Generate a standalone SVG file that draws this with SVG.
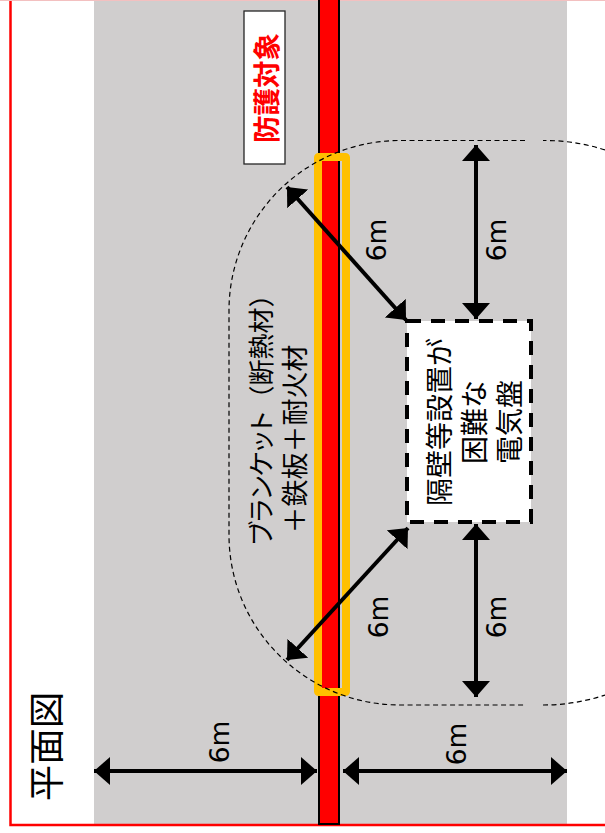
<svg xmlns="http://www.w3.org/2000/svg" width="605" height="833" viewBox="0 0 605 833">
<style>
.jp{font-family:"Noto Sans CJK JP","Noto Sans",sans-serif;fill:#000;text-anchor:middle;dominant-baseline:central}
.m{font-family:"DejaVu Sans",sans-serif;font-size:26.500px;fill:#000;text-anchor:middle;dominant-baseline:central}
.arrow{stroke:#000;stroke-width:4;fill:none;marker-start:url(#head);marker-end:url(#head)}
.palt{font-feature-settings:"palt"}
</style>
<defs>
<marker id="head" markerUnits="userSpaceOnUse" markerWidth="17" markerHeight="28" refX="16" refY="14" orient="auto-start-reverse">
<polygon points="0,0 16,14 0,28" fill="#000"/>
</marker>
</defs>
<rect width="605" height="833" fill="#fff"/>
<g id="ground"><rect x="94" y="0" width="473" height="824" fill="#d0cece"/></g>
<g id="frame"><path d="M10.500,0V825H605" fill="none" stroke="#f00" stroke-width="2.500"/><path d="M0,0.500H605" stroke="#f3c0c0" stroke-width="1"/></g>
<g id="target-pipe"><rect x="319" y="-2" width="20" height="826" fill="#f00" stroke="#000" stroke-width="2"/></g>
<g id="blanket"><rect x="318" y="157" width="28" height="535" rx="0.500" fill="none" stroke="#ffc000" stroke-width="8" stroke-linejoin="round"/></g>
<g id="range"><path d="M525,140.500H400A171,170 0 0 0 229,310.500V535A171,170 0 0 0 400,705H525M543,705A195,195 0 0 0 605,695M605,150A195,195 0 0 0 543,140.500" fill="none" stroke="#000" stroke-width="1.200" stroke-dasharray="5 3.500"/></g>
<g id="label-target">
<rect x="244" y="11" width="41" height="153" fill="#fff" stroke="#262626" stroke-width="1.300"/>
<text class="jp" transform="translate(265,88) rotate(-90)" font-size="27.500" font-weight="700" style="fill:#f00">防護対象</text>
</g>
<g id="switchboard">
<rect x="407" y="321" width="124" height="201" fill="#fff" stroke="#000" stroke-width="4" stroke-dasharray="14 10"/>
<text class="jp" transform="translate(438,422) rotate(-90)" font-size="28">隔壁等設置が</text>
<text class="jp" transform="translate(473,422) rotate(-90)" font-size="28">困難な</text>
<text class="jp" transform="translate(508,422) rotate(-90)" font-size="28">電気盤</text>
</g>
<g id="label-blanket">
<text class="jp" transform="translate(259,413) rotate(-90)" font-size="26"><tspan class="palt">ブランケット</tspan>（断熱材）</text>
<text class="jp" transform="translate(293,439) rotate(-90)" font-size="27">＋鉄板＋耐火材</text>
</g>
<g id="label-plan"><text class="jp" transform="translate(44,746.500) rotate(-90)" font-size="36.500">平面図</text></g>
<g id="connectors">
<line class="arrow" x1="476" y1="145" x2="476" y2="319"/>
<line class="arrow" x1="476" y1="524" x2="476" y2="697"/>
<line class="arrow" x1="287" y1="187" x2="406" y2="320"/>
<line class="arrow" x1="408" y1="528" x2="287" y2="660"/>
<line class="arrow" x1="94" y1="771" x2="317" y2="771"/>
<line class="arrow" x1="343" y1="771" x2="567" y2="771"/>
</g>
<g id="dimension-labels">
<text class="m" transform="translate(376,240) rotate(-90)">6m</text>
<text class="m" transform="translate(496,240) rotate(-90)">6m</text>
<text class="m" transform="translate(378,617) rotate(-90)">6m</text>
<text class="m" transform="translate(496,617) rotate(-90)">6m</text>
<text class="m" transform="translate(219,742) rotate(-90)">6m</text>
<text class="m" transform="translate(456,744) rotate(-90)">6m</text>
</g>
</svg>
